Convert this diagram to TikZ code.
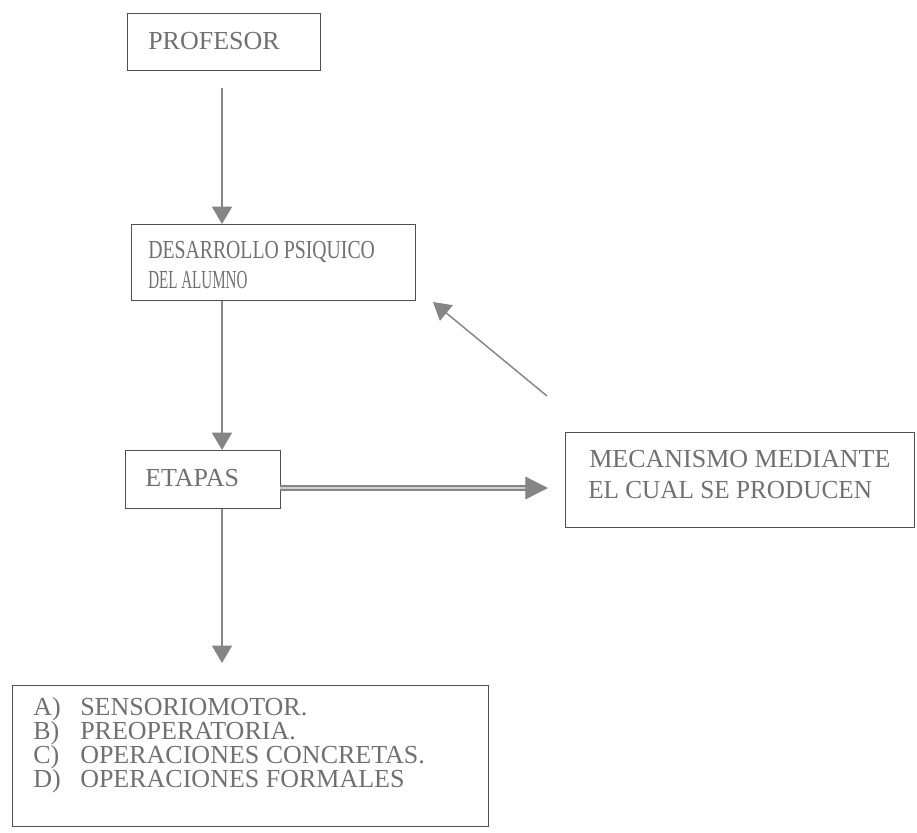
\documentclass[tikz,border=0pt]{standalone}
\usepackage{fontspec}
\usepackage{graphicx}
\setmainfont{Liberation Serif}
\usetikzlibrary{arrows.meta,calc}
\definecolor{boxc}{HTML}{505050}
\definecolor{txtc}{HTML}{707070}
\definecolor{arrc}{HTML}{858585}
\tikzset{
  box/.style={draw=boxc, line width=1.1pt, rectangle, inner sep=0pt, anchor=north west},
  lbl/.style={anchor=base west, inner sep=0pt, text=txtc, font=\fontsize{19.5}{22}\selectfont},
  arr/.style={draw=arrc, line width=1.1pt, -{Triangle[length=13pt,width=15pt,fill=arrc]}},
  dbl/.style={draw=arrc, line width=0.9pt, double=arrc!40!white, double distance=2.2pt, -{Triangle[length=17pt,width=17pt,fill=arrc]}}
}
\begin{document}
\begin{tikzpicture}[x=0.75pt,y=-0.75pt]
\useasboundingbox (0,0) rectangle (917,832);
% boxes
\node[box, minimum width=193*0.75pt, minimum height=57*0.75pt] (prof) at (127,13) {};
\node[box, minimum width=284*0.75pt, minimum height=76*0.75pt] (des) at (131,224) {};
\node[box, minimum width=155*0.75pt, minimum height=58*0.75pt] (eta) at (125,450) {};
\node[box, minimum width=349*0.75pt, minimum height=95*0.75pt] (mec) at (565,432) {};
\node[box, minimum width=476*0.75pt, minimum height=141*0.75pt] (lst) at (12,685) {};
% texts
\node[lbl] (tprof) at (148,49) {PROFESOR};
\node[lbl] (tdes1) at (148,258) {\scalebox{0.76}[1]{DESARROLLO PSIQUICO}};
\node[lbl] (tdes2) at (148,288) {\scalebox{0.58}[1]{DEL ALUMNO}};
\node[lbl] (teta) at (145,486) {ETAPAS};
\node[lbl] (tmec1) at (589,467) {MECANISMO MEDIANTE};
\node[lbl] (tmec2) at (588,498) {\scalebox{0.97}[1]{EL CUAL SE PRODUCEN}};
\node[lbl] (la) at (33,715) {A)};
\node[lbl] (lb) at (33,739) {B)};
\node[lbl] (lc) at (33,763) {C)};
\node[lbl] (ld) at (33,787) {D)};
\node[lbl] (ta) at (80,715) {SENSORIOMOTOR.};
\node[lbl] (tb) at (80,739) {PREOPERATORIA.};
\node[lbl] (tc) at (80,763) {OPERACIONES CONCRETAS.};
\node[lbl] (td) at (80,787) {OPERACIONES FORMALES};
% connectors
\coordinate (c1) at (222,88);
\draw[arr] (c1) -- (c1 |- des.north);
\draw[arr] (c1 |- des.south) -- (c1 |- eta.north);
\draw[arr] (c1 |- eta.south) -- ($(c1 |- lst.north)+(0,-22)$);
\coordinate (d1) at (280,488);
\coordinate (d2) at (548,488);
\draw[dbl] (d1) -- (d2);
\coordinate (g1) at (547,396);
\coordinate (g2) at (433,302);
\draw[arr] (g1) -- (g2);
\end{tikzpicture}
\end{document}
